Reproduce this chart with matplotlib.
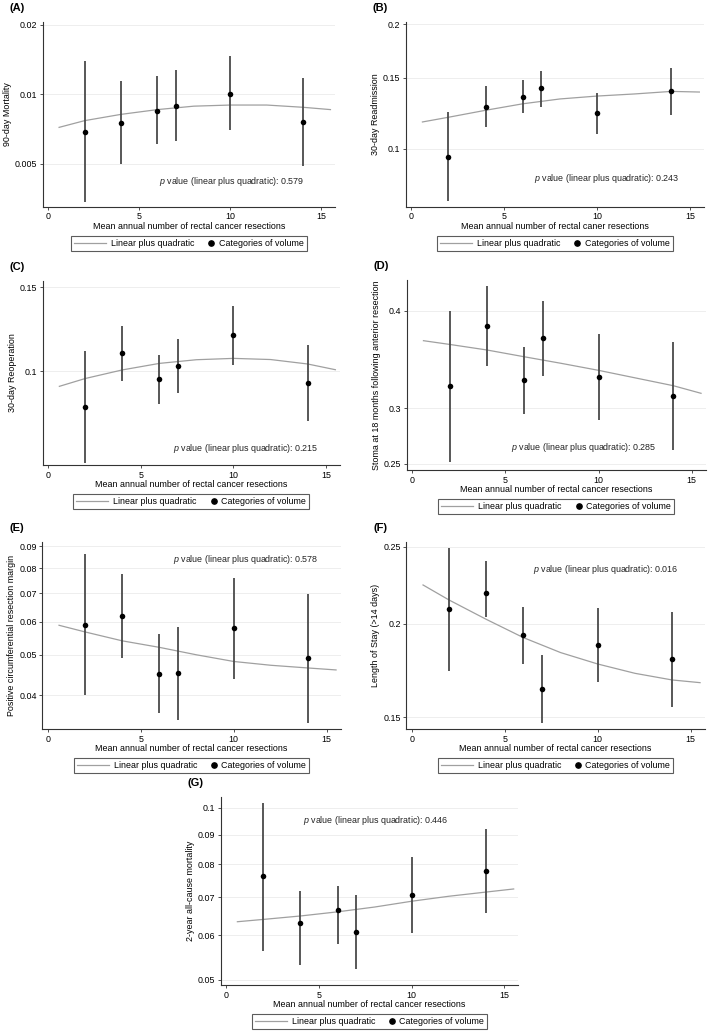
import numpy as np
import matplotlib
matplotlib.use('Agg')
import matplotlib.pyplot as plt
from matplotlib.ticker import NullLocator
from matplotlib.lines import Line2D
from matplotlib.legend_handler import HandlerLine2D

plt.rcParams['font.family'] = ['Liberation Sans', 'DejaVu Sans']
plt.rcParams['mathtext.fontset'] = 'custom'
plt.rcParams['mathtext.rm'] = 'Liberation Sans'
plt.rcParams['mathtext.it'] = 'Liberation Sans:italic'

# volume categories and points where the fitted curve was read
volume = [2, 4, 6, 7, 10, 14]
curve_x = [0.6, 2, 4, 6, 8, 10, 12, 14, 15.5]

# (A) 90-day mortality
mort90 = [0.0069, 0.0075, 0.0085, 0.0089, 0.0100, 0.0076]
mort90_lo = [0.0034, 0.0050, 0.0061, 0.0063, 0.0070, 0.0049]
mort90_hi = [0.0140, 0.0114, 0.0120, 0.0128, 0.0146, 0.0118]
mort90_fit = [0.0072, 0.0077, 0.0082, 0.0086, 0.0089, 0.0090, 0.0090, 0.0088, 0.0086]

# (B) 30-day readmission
readm = [0.0950, 0.1275, 0.1350, 0.1414, 0.1229, 0.1390]
readm_lo = [0.0732, 0.1135, 0.1227, 0.1275, 0.1092, 0.1216]
readm_hi = [0.1240, 0.1430, 0.1480, 0.1560, 0.1380, 0.1580]
readm_fit = [0.1168, 0.1200, 0.1249, 0.1296, 0.1332, 0.1354, 0.1370, 0.1390, 0.1385]

# (C) 30-day reoperation
reop = [0.0835, 0.1095, 0.0961, 0.1028, 0.1193, 0.0945]
reop_lo = [0.0627, 0.0953, 0.0851, 0.0899, 0.1032, 0.0781]
reop_hi = [0.1107, 0.1250, 0.1084, 0.1172, 0.1371, 0.1138]
reop_fit = [0.0928, 0.0965, 0.1007, 0.1040, 0.1059, 0.1066, 0.1060, 0.1037, 0.1008]

# (D) stoma at 18 months
stoma = [0.3213, 0.3838, 0.3273, 0.3703, 0.3310, 0.3115]
stoma_lo = [0.2513, 0.3417, 0.2950, 0.3316, 0.2893, 0.2620]
stoma_hi = [0.3998, 0.4274, 0.3613, 0.4109, 0.3753, 0.3662]
stoma_fit = [0.3679, 0.3640, 0.3582, 0.3512, 0.3444, 0.3373, 0.3296, 0.3220, 0.3145]

# (E) positive CRM
crm = [0.0589, 0.0619, 0.0450, 0.0452, 0.0579, 0.0491]
crm_lo = [0.0401, 0.0491, 0.0362, 0.0349, 0.0438, 0.0343]
crm_hi = [0.0861, 0.0776, 0.0560, 0.0584, 0.0758, 0.0696]
crm_fit = [0.0588, 0.0567, 0.0540, 0.0521, 0.0500, 0.0482, 0.0472, 0.0465, 0.0460]

# (F) length of stay > 14 days
los = [0.2090, 0.2188, 0.1934, 0.1640, 0.1879, 0.1797]
los_lo = [0.1735, 0.2041, 0.1770, 0.1472, 0.1674, 0.1551]
los_hi = [0.2488, 0.2402, 0.2104, 0.1821, 0.2098, 0.2070]
los_fit = [0.2242, 0.2146, 0.2027, 0.1919, 0.1834, 0.1771, 0.1721, 0.1686, 0.1672]

# (G) 2-year all-cause mortality
mort2y = [0.0762, 0.0631, 0.0666, 0.0608, 0.0708, 0.0778]
mort2y_lo = [0.0563, 0.0532, 0.0580, 0.0522, 0.0606, 0.0657]
mort2y_hi = [0.1020, 0.0718, 0.0733, 0.0708, 0.0824, 0.0918]
mort2y_fit = [0.0634, 0.0640, 0.0649, 0.0660, 0.0673, 0.0689, 0.0703, 0.0715, 0.0724]

xlab = 'Mean annual number of rectal cancer resections'
panels = [
    ('(A)', '90-day Mortality', xlab, mort90, mort90_lo, mort90_hi, mort90_fit,
     [0.005, 0.01, 0.02], ['0.005', '0.01', '0.02'], (0.00325, 0.0206), '0.579'),
    ('(B)', '30-day Readmission', 'Mean annual number of rectal caner resections',
     readm, readm_lo, readm_hi, readm_fit,
     [0.1, 0.15, 0.2], ['0.1', '0.15', '0.2'], (0.0707, 0.2028), '0.243'),
    ('(C)', '30-day Reoperation', xlab, reop, reop_lo, reop_hi, reop_fit,
     [0.1, 0.15], ['0.1', '0.15'], (0.0622, 0.1545), '0.215'),
    ('(D)', 'Stoma at 18 months following anterior resection', xlab,
     stoma, stoma_lo, stoma_hi, stoma_fit,
     [0.25, 0.3, 0.4], ['0.25', '0.3', '0.4'], (0.2449, 0.4337), '0.285'),
    ('(E)', 'Positive circumferential resection margin', xlab, crm, crm_lo, crm_hi, crm_fit,
     [0.04, 0.05, 0.06, 0.07, 0.08, 0.09], ['0.04', '0.05', '0.06', '0.07', '0.08', '0.09'],
     (0.0331, 0.0921), '0.578'),
    ('(F)', 'Length of Stay (>14 days)', xlab, los, los_lo, los_hi, los_fit,
     [0.15, 0.2, 0.25], ['0.15', '0.2', '0.25'], (0.1445, 0.2535), '0.016'),
    ('(G)', '2-year all-cause mortality', xlab, mort2y, mort2y_lo, mort2y_hi, mort2y_fit,
     [0.05, 0.06, 0.07, 0.08, 0.09, 0.1], ['0.05', '0.06', '0.07', '0.08', '0.09', '0.1'],
     (0.0489, 0.1044), '0.446'),
]

W, H = 709, 1032
# axes boxes in pixels: left, top, right, bottom
boxes = [(42.7, 21.7, 335, 206.7), (405.7, 21.7, 704, 206.7),
         (42.7, 281, 340, 465), (406.7, 280, 705.7, 470),
         (42.3, 541.7, 340.7, 729), (406.3, 541.7, 704.7, 729),
         (220.7, 796.7, 518.3, 985)]
ptext = [(0.398, 0.135), (0.43, 0.153), (0.438, 0.092), (0.348, 0.121),
         (0.437, 0.906), (0.425, 0.849), (0.277, 0.876)]


class DotAtRight(HandlerLine2D):
    # puts the marker at the right end of the handle box, next to its text
    def create_artists(self, legend, orig_handle, xdescent, ydescent,
                       width, height, fontsize, trans):
        m = Line2D([-xdescent + width - 2.0], [(height - ydescent) / 2],
                   marker='o', color='black', markersize=3.8, ls='none')
        m.set_transform(trans)
        return [m]


fig = plt.figure(figsize=(W / 100, H / 100), dpi=100)
fs = 6.4
axcol = '#333333'

for i, (tag, ylabel, xlabel, y, lo, hi, fit, yt, ytl, ylim, pval) in enumerate(panels):
    l, t, r, b = boxes[i]
    ax = fig.add_axes([l / W, 1 - b / H, (r - l) / W, (b - t) / H])
    ax.set_yscale('logit')
    ax.set_ylim(*ylim)
    ax.set_xlim(-0.3, 15.75)
    for v in yt:
        ax.axhline(v, color='#eeeeee', lw=0.7, zorder=0)
    fit_line, = ax.plot(curve_x, fit, color='#a0a0a0', lw=0.9, zorder=2)
    ax.vlines(volume, lo, hi, color='#4a4a4a', lw=1.3, zorder=3)
    ax.scatter(volume, y, s=16, color='black', zorder=4, linewidths=0)
    ax.set_yticks(yt)
    ax.set_yticklabels(ytl)
    ax.yaxis.set_minor_locator(NullLocator())
    ax.set_xticks([0, 5, 10, 15])
    ax.set_xticklabels(['0', '5', '10', '15'])
    ax.xaxis.set_minor_locator(NullLocator())
    for s in ['top', 'right']:
        ax.spines[s].set_visible(False)
    for s in ['left', 'bottom']:
        ax.spines[s].set_color(axcol)
        ax.spines[s].set_linewidth(0.8)
    ax.tick_params(axis='both', labelsize=fs, length=2.5, width=0.6, color=axcol, pad=1.5)
    ax.set_xlabel(xlabel, fontsize=fs, labelpad=0.5)
    ax.set_ylabel(ylabel, fontsize=fs, labelpad=2)
    tx, ty = ptext[i]
    ax.text(tx, ty, r'$\it{p}$ value (linear plus quadratic): ' + pval,
            transform=ax.transAxes, fontsize=fs, ha='left', va='center', color='#222222')
    fig.text((l - 33) / W, 1 - (t - 14) / H, tag, fontsize=8, fontweight='bold',
             ha='left', va='center')

    dot = Line2D([], [], color='black', marker='o', ls='none')
    axh = b - t
    leg = ax.legend([fit_line, dot], ['Linear plus quadratic', 'Categories of volume'],
                    loc='upper center', ncol=2, bbox_to_anchor=(0.5, -29 / axh),
                    handler_map={dot: DotAtRight()},
                    fontsize=fs, frameon=True, fancybox=False, borderaxespad=0,
                    handlelength=3.6, handletextpad=0.55, columnspacing=-1.4,
                    borderpad=0.35)
    leg.get_frame().set_edgecolor('#333333')
    leg.get_frame().set_linewidth(0.8)

fig.savefig('out.png', dpi=100)
